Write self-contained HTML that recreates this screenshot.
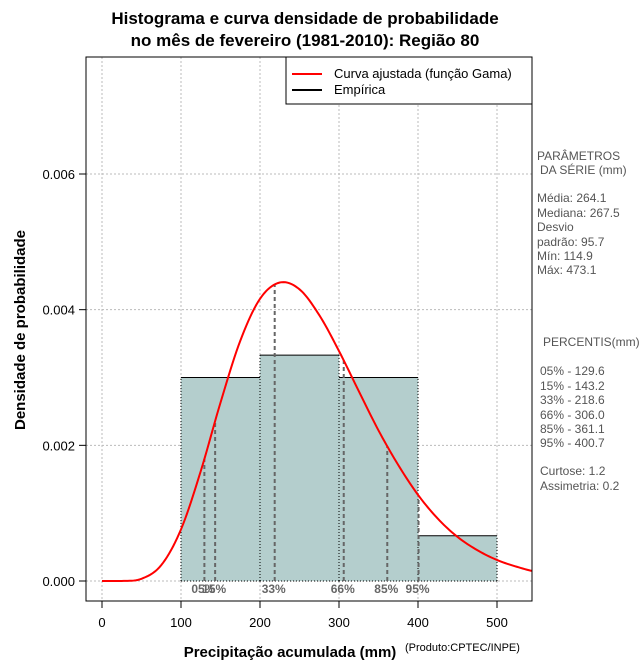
<!DOCTYPE html>
<html><head><meta charset="utf-8"><style>
body{margin:0;background:#fff;width:640px;height:660px;overflow:hidden}
text{font-family:"Liberation Sans",sans-serif}
</style></head><body>
<svg id="chart" width="640" height="660" xmlns="http://www.w3.org/2000/svg">
<text x="305" y="24" text-anchor="middle" font-size="17" font-weight="bold">Histograma e curva densidade de probabilidade</text>
<text x="305" y="46" text-anchor="middle" font-size="17" font-weight="bold">no mês de fevereiro (1981-2010): Região 80</text>
<g id="grid"></g>
<g id="bars"></g>
<g id="pct"></g>
<g id="curve"></g>
<rect x="86" y="57" width="446" height="544" fill="none" stroke="#000" stroke-width="1"/>
<g id="axes"></g>
<text transform="translate(25,330) rotate(-90)" text-anchor="middle" font-size="15" font-weight="bold">Densidade de probabilidade</text>
<text x="290" y="657" text-anchor="middle" font-size="15" font-weight="bold">Precipitação acumulada (mm)</text>
<text x="405" y="651" font-size="11">(Produto:CPTEC/INPE)</text>
<g>
<rect x="286" y="57" width="246" height="47" fill="#fff" stroke="#000"/>
<line x1="292" y1="74" x2="322" y2="74" stroke="red" stroke-width="2"/>
<text x="334" y="78" font-size="13">Curva ajustada (função Gama)</text>
<line x1="292" y1="90" x2="322" y2="90" stroke="#000" stroke-width="2"/>
<text x="334" y="94" font-size="13">Empírica</text>
</g>
<g font-size="12" fill="#555">
<text x="537" y="160">PARÂMETROS</text><text x="540" y="174">DA SÉRIE (mm)</text>
<text x="537" y="202">Média:  264.1</text><text x="537" y="217">Mediana:  267.5</text>
<text x="537" y="231">Desvio</text><text x="537" y="246">padrão:  95.7</text>
<text x="537" y="260">Mín:  114.9</text><text x="537" y="274">Máx:  473.1</text>
<text x="543" y="346">PERCENTIS(mm)</text>
<text x="540" y="375">05% -  129.6</text><text x="540" y="390">15% -  143.2</text>
<text x="540" y="404">33% -  218.6</text><text x="540" y="419">66% -  306.0</text>
<text x="540" y="433">85% -  361.1</text><text x="540" y="447">95% -  400.7</text>
<text x="540" y="475">Curtose:  1.2</text><text x="540" y="490">Assimetria:  0.2</text>
</g>
</svg>
<script>
const binStarts=[100,200,300,400];
const binWidth=100;
const binDensity=[0.003,0.00333,0.003,0.000667];
const curveX=[0,25,50,75,100,125,150,175,200,225,250,275,300,325,350,375,400,425,450,475,500,525,550];
const curveY=[0,0.0000007,0.000033,0.000234,0.000761,0.00162,0.00263,0.00354,0.00416,0.00440,0.00430,0.00392,0.00339,0.00280,0.00222,0.00171,0.00127,0.00092,0.00065,0.000455,0.00031,0.00021,0.000138];
const pctLabels=["05%","15%","33%","66%","85%","95%"];
const pctValues=[129.6,143.2,218.6,306.0,361.1,400.7];
const xTicks=[0,100,200,300,400,500];
const yTicks=[0,0.002,0.004,0.006];
const yTickLabels=["0.000","0.002","0.004","0.006"];
const NS="http://www.w3.org/2000/svg";
const xs=v=>102+v*0.79;
const ys=v=>581-v*67833;
function mk(tag,attrs,parent){const e=document.createElementNS(NS,tag);for(const k in attrs)e.setAttribute(k,attrs[k]);parent.appendChild(e);return e;}
const grid=document.getElementById('grid'),bars=document.getElementById('bars'),pct=document.getElementById('pct'),curve=document.getElementById('curve'),axes=document.getElementById('axes');
function interp(x){
 for(let i=1;i<curveX.length;i++){if(x<=curveX[i]){
  const i0=Math.max(i-2,0),i3=Math.min(i+1,curveX.length-1);
  const t=(x-curveX[i-1])/(curveX[i]-curveX[i-1]);
  const p0=curveY[i0],p1=curveY[i-1],p2=curveY[i],p3=curveY[i3];
  return 0.5*((2*p1)+(-p0+p2)*t+(2*p0-5*p1+4*p2-p3)*t*t+(-p0+3*p1-3*p2+p3)*t*t*t);
 }}return curveY[curveY.length-1];}
xTicks.forEach(v=>{
 const g=mk('line',{x1:xs(v),x2:xs(v),y1:57,y2:601,stroke:'#bbb','stroke-dasharray':'2,2'},grid);
 
 
 const t=mk('line',{x1:xs(v),x2:xs(v),y1:601,y2:608,stroke:'#000'},axes);
 
 
 const l=mk('text',{x:xs(v),y:627,'text-anchor':'middle','font-size':'13'},axes);l.textContent=v;
 
 
});
yTicks.forEach((v,i)=>{
 const g=mk('line',{x1:86,x2:532,y1:ys(v),y2:ys(v),stroke:'#bbb','stroke-dasharray':'2,2'},grid);
 
 
 const t=mk('line',{x1:79,x2:86,y1:ys(v),y2:ys(v),stroke:'#000'},axes);
 
 
 const l=mk('text',{x:75,y:ys(v)+5,'text-anchor':'end','font-size':'13'},axes);l.textContent=yTickLabels[i];
 
 
});
binStarts.forEach((s,i)=>{
 const x0=xs(s),x1=xs(s+binWidth),y=ys(binDensity[i]);
 const r=mk('rect',{x:x0,y:y,width:x1-x0,height:ys(0)-y,fill:'#b4cecd'},bars);
 
 
 const tl=mk('line',{x1:x0,x2:x1,y1:y,y2:y,stroke:'#000'},bars);
 
 
 const d=mk('path',{d:`M${x0},${ys(0)}V${y}M${x1},${ys(0)}V${y}M${x0},${ys(0)}H${x1}`,stroke:'#000',fill:'none','stroke-dasharray':'1,2'},bars);
 
 
});
pctValues.forEach((v,i)=>{
 const l=mk('line',{x1:xs(v),x2:xs(v),y1:ys(0),y2:ys(interp(v)),stroke:'#666','stroke-width':'2','stroke-dasharray':'4,3'},pct);
 
 
 const t=mk('text',{x:xs(v)-13,y:593,'font-size':'12','font-weight':'bold',fill:'#666'},pct);t.textContent=pctLabels[i];
 
 
});
const cp=document.createElementNS(NS,'clipPath');cp.id='clip';mk('rect',{x:86,y:57,width:446,height:544},cp);curve.appendChild(cp);
const pts=[];
for(let x=curveX[0];x<=curveX[curveX.length-1];x+=2.5){pts.push(xs(x)+','+ys(Math.max(0,interp(x))));}
const p=mk('polyline',{points:pts.join(' '),fill:'none',stroke:'red','stroke-width':'2','clip-path':'url(#clip)'},curve);


</script>
</body></html>
